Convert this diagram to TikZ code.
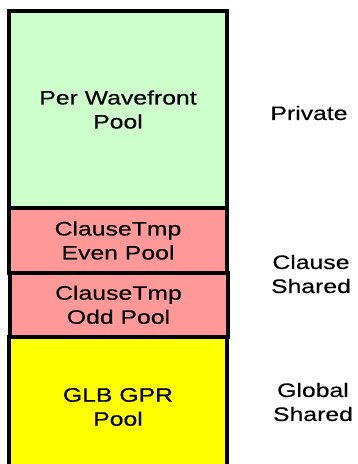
\documentclass[tikz,border=0pt]{standalone}
\usepackage{fontspec}
\setmainfont[FakeStretch=1.27,FakeBold=0.4]{Liberation Sans}
\usetikzlibrary{positioning}

\definecolor{privgreen}{HTML}{CCFFCC}
\definecolor{clausepink}{HTML}{FF9999}
\definecolor{glbyellow}{HTML}{FFFF00}

\tikzset{
  pool/.style={draw=black, line width=4pt, minimum width=218pt, inner sep=0pt,
    outer sep=0pt, align=center, font=\fontsize{19.5}{24}\selectfont},
  scope label/.style={align=center, font=\fontsize{19.5}{24}\selectfont}
}

\begin{document}
\begin{tikzpicture}[x=1pt,y=-1pt]
    \useasboundingbox (0,0) rectangle (357,464);
    \clip (0,0) rectangle (357,464);
    % register pools, stacked top to bottom
    \node[pool,fill=privgreen,minimum height=197pt] (wave) at (118,109.5) {Per Wavefront\\Pool};
    \node[pool,fill=clausepink,minimum height=65pt] (even) at (118,240.5) {ClauseTmp\\Even Pool};
    \node[pool,fill=clausepink,minimum height=63.5pt] (odd) at (118.5,304.75) {ClauseTmp\\Odd Pool};
    \node[pool,fill=glbyellow,minimum height=141pt] (glb) at (118,407) {GLB GPR\\Pool};
    % sharing scope of each pool
    \node[scope label] (private) at (309,113) {Private};
    \node[scope label] (clause) at (311,274) {Clause\\Shared};
    \node[scope label] (global) at (313,402) {Global\\Shared};
  \end{tikzpicture}
\end{document}
